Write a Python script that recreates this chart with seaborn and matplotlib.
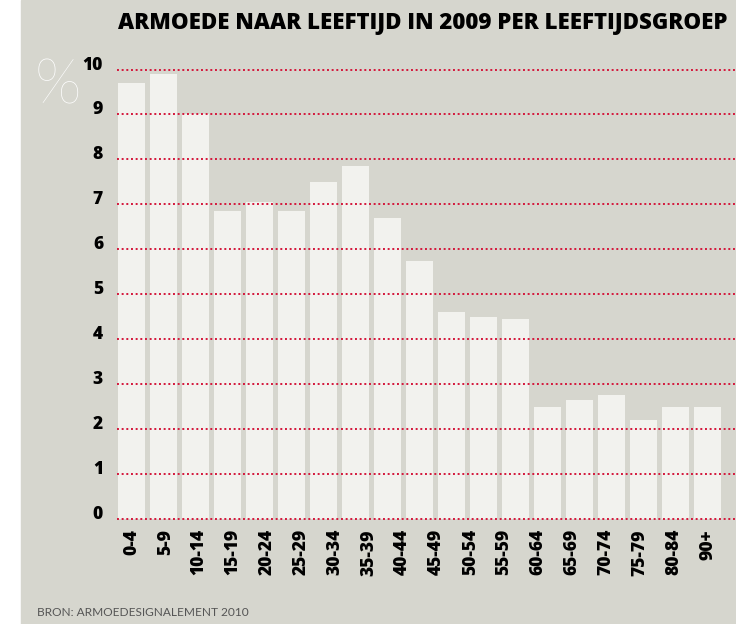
import numpy as np
import pandas as pd
import seaborn as sns
import matplotlib.pyplot as plt

# waarden: 19 staven, maar slechts 18 labels
bar_values = [9.7, 9.9, 9.0, 6.85, 7.05, 6.85, 7.5, 7.85, 6.7, 5.75,
              4.6, 4.5, 4.45, 2.5, 2.65, 2.75, 2.2, 2.5, 2.5]
tick_labels = ['0-4', '5-9', '10-14', '15-19', '20-24', '25-29', '30-34',
               '35-39', '40-44', '45-49', '50-54', '55-59', '60-64', '65-69',
               '70-74', '75-79', '80-84', '90+']
y_ticks = list(range(0, 11))

title = 'ARMOEDE NAAR LEEFTIJD IN 2009 PER LEEFTIJDSGROEP'
source = 'BRON: ARMOEDESIGNALEMENT 2010'

bg = '#d6d6ce'
bar_col = '#f2f2ee'
grid_col = '#d4173b'

df = pd.DataFrame({'bar': [str(i) for i in range(len(bar_values))],
                   'pct': bar_values})

sns.set_theme(style='white')
plt.rcParams['font.family'] = ['Open Sans', 'DejaVu Sans']

fig = plt.figure(figsize=(7.36, 6.24), dpi=100)
fig.patches.append(plt.Rectangle((21 / 736, 0), 1, 1, transform=fig.transFigure,
                                 color=bg, zorder=-10))

ax = fig.add_axes([117 / 736, 0.161, 1 - 117 / 736, 0.742])
ax.set_facecolor('none')

sns.barplot(data=df, x='bar', y='pct', color=bar_col, saturation=1,
            width=0.84, edgecolor='none', ax=ax)

ax.set_xlim(-0.45, 18.89)
ax.set_ylim(-0.1, 10.2)
ax.set_yticks(y_ticks)
ax.set_yticklabels([str(v) for v in y_ticks], fontweight='heavy', fontsize=12.5, color='black')
ax.set_xticks(np.linspace(0, len(bar_values) - 1, len(tick_labels)))
ax.set_xticklabels(tick_labels, rotation=90, fontweight='heavy', fontsize=12.5,
                   color='black', va='top', ha='center')
ax.set_xlabel('')
ax.set_ylabel('')

ax.yaxis.grid(True, color=grid_col, linestyle=(0, (1, 1.4)), linewidth=1.4)
ax.xaxis.grid(False)
ax.set_axisbelow(False)
for s in ax.spines.values():
    s.set_visible(False)
ax.tick_params(axis='both', length=0)
ax.tick_params(axis='y', pad=10)
ax.tick_params(axis='x', pad=4)
for lab in ax.get_yticklabels():
    lab.set_verticalalignment('baseline')

fig.text(118 / 736, 1 - 23 / 624, title, fontsize=16, fontweight='heavy',
         color='black', va='center', ha='left')
fig.text(58 / 736, 1 - 87 / 624, '%', fontsize=44, fontweight='light',
         family=['Lato', 'DejaVu Sans'], color='white', va='center', ha='center')
fig.text(37 / 736, 1 - 613 / 624, source, fontsize=8.6, color='#555555',
         family=['Lato', 'DejaVu Sans'], va='center', ha='left')

fig.savefig('out.png', dpi=100)
